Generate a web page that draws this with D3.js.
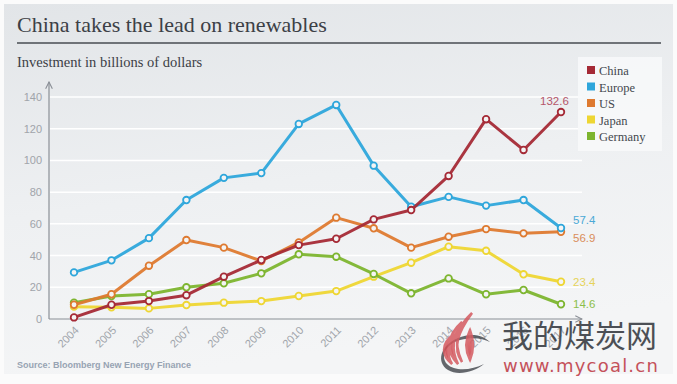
<!DOCTYPE html>
<html lang="en">
<head>
<meta charset="utf-8">
<title>China takes the lead on renewables</title>
<script src="https://cdnjs.cloudflare.com/ajax/libs/d3/7.8.5/d3.min.js"></script>
<style>
  html, body { margin: 0; padding: 0; background: #fff; }
  svg { display: block; }
</style>
</head>
<body>
<div id="chart"></div>
<script>
// data
var years = [2004, 2005, 2006, 2007, 2008, 2009, 2010, 2011, 2012, 2013, 2014, 2015, 2016, 2017];
var tickLabels = ["2004", "2005", "2006", "2007", "2008", "2009", "2010", "2011", "2012", "2013", "2014", "2015", "2016", "2017"];
var yTicks = [0, 20, 40, 60, 80, 100, 120, 140];

var china   = [1, 9, 11.3, 15, 26.7, 37.2, 46.6, 50.6, 62.8, 68.7, 90.2, 126, 106.6, 130.5];
var europe  = [29.4, 37, 51, 75, 89, 92, 123, 135, 96.7, 70.8, 77, 71.5, 75, 57.4];
var us      = [9, 15.6, 33.6, 49.8, 45, 36.6, 48.3, 63.9, 57.2, 45, 51.9, 56.7, 54, 55];
var japan   = [7.8, 7.4, 6.7, 8.8, 10.3, 11.3, 14.5, 17.6, 26.7, 35.5, 45.6, 43, 28.2, 23.5];
var germany = [10.3, 14.5, 15.6, 20, 22.5, 28.8, 40.8, 39.3, 28.4, 16.2, 25.6, 15.6, 18.3, 9.3];

var seriesNames = ["China", "Europe", "US", "Japan", "Germany"];
var endLabels = ["132.6", "57.4", "56.9", "23.4", "14.6"];

var colors = ["#a52a36", "#2ea6db", "#de7a30", "#eed633", "#7db52f"];
var labelColors = ["#b5566a", "#4aa9d6", "#d98d5a", "#e6d35a", "#8cbf4a"];

var W = 677, H = 384;
var svg = d3.select("#chart").append("svg").attr("width", W).attr("height", H);

var defs = svg.append("defs");
var bg = defs.append("linearGradient").attr("id", "bg").attr("x1", 0).attr("y1", 0).attr("x2", 0.25).attr("y2", 1);
bg.append("stop").attr("offset", "0%").attr("stop-color", "#e2e5e8");
bg.append("stop").attr("offset", "55%").attr("stop-color", "#eef0f2");
bg.append("stop").attr("offset", "100%").attr("stop-color", "#f4f5f6");
var fl = defs.append("linearGradient").attr("id", "flame").attr("x1", 0).attr("y1", 0).attr("x2", 0).attr("y2", 1);
fl.append("stop").attr("offset", "0%").attr("stop-color", "#e88a8a");
fl.append("stop").attr("offset", "100%").attr("stop-color", "#c8303a");
var ar = defs.append("marker").attr("id", "arrow").attr("viewBox", "0 0 10 10")
  .attr("refX", 9).attr("refY", 5).attr("markerWidth", 7).attr("markerHeight", 7)
  .attr("orient", "auto");
ar.append("path").attr("d", "M1,1 L9,5 L1,9").attr("fill", "none").attr("stroke", "#8a8f96").attr("stroke-width", 1.3);

svg.append("rect").attr("width", W).attr("height", H).attr("fill", "#fbfbfb");
svg.append("rect").attr("x", 4).attr("y", 4).attr("width", W - 8).attr("height", H - 14).attr("fill", "url(#bg)");

// title
svg.append("text").attr("x", 17).attr("y", 32)
  .style("font-family", "'Liberation Serif', 'DejaVu Serif', serif")
  .style("font-size", "22px").style("fill", "#3c4046")
  .text("China takes the lead on renewables");
svg.append("line").attr("x1", 17).attr("x2", 661).attr("y1", 43).attr("y2", 43)
  .attr("stroke", "#6f7378").attr("stroke-width", 2);
svg.append("text").attr("x", 17).attr("y", 67)
  .style("font-family", "'Liberation Serif', 'DejaVu Serif', serif")
  .style("font-size", "14.5px").style("fill", "#3c4046")
  .text("Investment in billions of dollars");

var x = d3.scalePoint().domain(years).range([74, 561]);
var y = d3.scaleLinear().domain([0, 140]).range([319, 97]);

// gridlines
svg.append("g").selectAll("line").data(yTicks.filter(function (d) { return d > 0; })).enter()
  .append("line")
  .attr("x1", 50).attr("x2", 582)
  .attr("y1", function (d) { return y(d); }).attr("y2", function (d) { return y(d); })
  .attr("stroke", "#ffffff").attr("stroke-width", 1.5);

// y axis
var yAxis = svg.append("g").attr("transform", "translate(49,0)")
  .call(d3.axisLeft(y).tickValues(yTicks).tickSize(0).tickPadding(7));
yAxis.select(".domain").remove();
yAxis.selectAll("text").style("font-family", "'Liberation Sans', Arial, sans-serif")
  .style("font-size", "11px").style("fill", "#a0a4aa");
svg.append("line").attr("x1", 49).attr("x2", 49).attr("y1", 319).attr("y2", 82)
  .attr("stroke", "#8a8f96").attr("stroke-width", 1.2).attr("marker-end", "url(#arrow)");

// x axis
var xAxis = svg.append("g").attr("transform", "translate(0,319)")
  .call(d3.axisBottom(x).tickFormat(function (d, i) { return tickLabels[i]; }).tickSize(0).tickPadding(0));
xAxis.select(".domain").remove();
xAxis.selectAll("text")
  .style("font-family", "'Liberation Sans', Arial, sans-serif")
  .style("font-size", "11px").style("fill", "#a0a4aa")
  .attr("text-anchor", "end").attr("dy", 0)
  .attr("transform", "translate(5,12) rotate(-45)");
svg.append("line").attr("x1", 49).attr("x2", 582).attr("y1", 319).attr("y2", 319)
  .attr("stroke", "#8a8f96").attr("stroke-width", 1.2).attr("marker-end", "url(#arrow)");

// series
var allSeries = [china, europe, us, japan, germany];
var drawOrder = [3, 4, 2, 1, 0];
var line = d3.line().x(function (d, i) { return x(years[i]); }).y(function (d) { return y(d); });

drawOrder.forEach(function (k) {
  var g = svg.append("g");
  g.append("path").datum(allSeries[k]).attr("d", line)
    .attr("fill", "none").attr("stroke", colors[k]).attr("stroke-width", 3)
    .attr("stroke-linejoin", "round").attr("stroke-opacity", 0.95);
  g.selectAll("circle").data(allSeries[k]).enter().append("circle")
    .attr("cx", function (d, i) { return x(years[i]); })
    .attr("cy", function (d) { return y(d); })
    .attr("r", 3.3).attr("fill", "#f4f4f4")
    .attr("stroke", colors[k]).attr("stroke-width", 1.8);
});

// end labels
var labelOffsets = [[-21, -11], [12, -8], [12, 6], [12, 0], [12, 0]];
allSeries.forEach(function (s, k) {
  var last = s[s.length - 1];
  svg.append("text")
    .attr("x", x(years[years.length - 1]) + labelOffsets[k][0])
    .attr("y", y(last) + labelOffsets[k][1])
    .attr("dy", "0.35em")
    .style("font-family", "'Liberation Sans', Arial, sans-serif")
    .style("font-size", "11.5px").style("fill", labelColors[k])
    .text(endLabels[k]);
});

// legend
var lg = svg.append("g").attr("transform", "translate(578,57)");
lg.append("rect").attr("width", 84).attr("height", 94).attr("fill", "#f7f8f9").attr("opacity", 0.9);
seriesNames.forEach(function (n, k) {
  var row = lg.append("g").attr("transform", "translate(9," + (14 + k * 16.5) + ")");
  row.append("rect").attr("x", 0).attr("y", -5).attr("width", 8).attr("height", 8).attr("fill", colors[k]);
  row.append("text").attr("x", 12).attr("y", 0).attr("dy", "0.35em")
    .style("font-family", "'Liberation Serif', 'DejaVu Serif', serif")
    .style("font-size", "12.5px").style("fill", "#44484e")
    .text(n);
});

// source
svg.append("text").attr("x", 17).attr("y", 368)
  .style("font-family", "'Liberation Sans', Arial, sans-serif")
  .style("font-size", "9px").style("font-weight", "bold").style("fill", "#97a3b3")
  .text("Source: Bloomberg New Energy Finance");

// watermark
var wm = svg.append("g");
wm.append("path").attr("d", "M490,342 C482,334 470,333 458,338 C440,346 436,362 448,370 C458,376 474,372 484,364 C472,370 455,372 447,364 C440,356 446,344 460,340 C472,337 482,338 490,342 Z")
  .attr("fill", "#4a4e54").attr("opacity", 0.85);
wm.append("path").attr("d", "M472,313 C458,326 452,340 462,362 C452,348 458,332 472,313 Z M462,322 C446,336 446,352 458,364 C450,348 454,336 462,322 Z M454,334 C440,344 442,356 452,364 C446,354 448,344 454,334 Z M470,330 C464,342 466,352 470,360 C474,350 474,340 470,330 Z")
  .attr("fill", "url(#flame)").attr("stroke", "#d55a60").attr("stroke-width", 2.5).attr("opacity", 0.85);
wm.append("text").attr("x", 502).attr("y", 347)
  .style("font-family", "'Noto Sans CJK SC', sans-serif")
  .style("font-size", "31px").style("fill", "#3a3e44").attr("opacity", 0.9)
  .text("我的煤炭网");
wm.append("text").attr("x", 503).attr("y", 372)
  .style("font-family", "'DejaVu Sans', sans-serif")
  .style("font-size", "18px").style("letter-spacing", "1.2px").style("fill", "#c0404a").attr("opacity", 0.9)
  .text("www.mycoal.cn");
</script>
</body>
</html>
